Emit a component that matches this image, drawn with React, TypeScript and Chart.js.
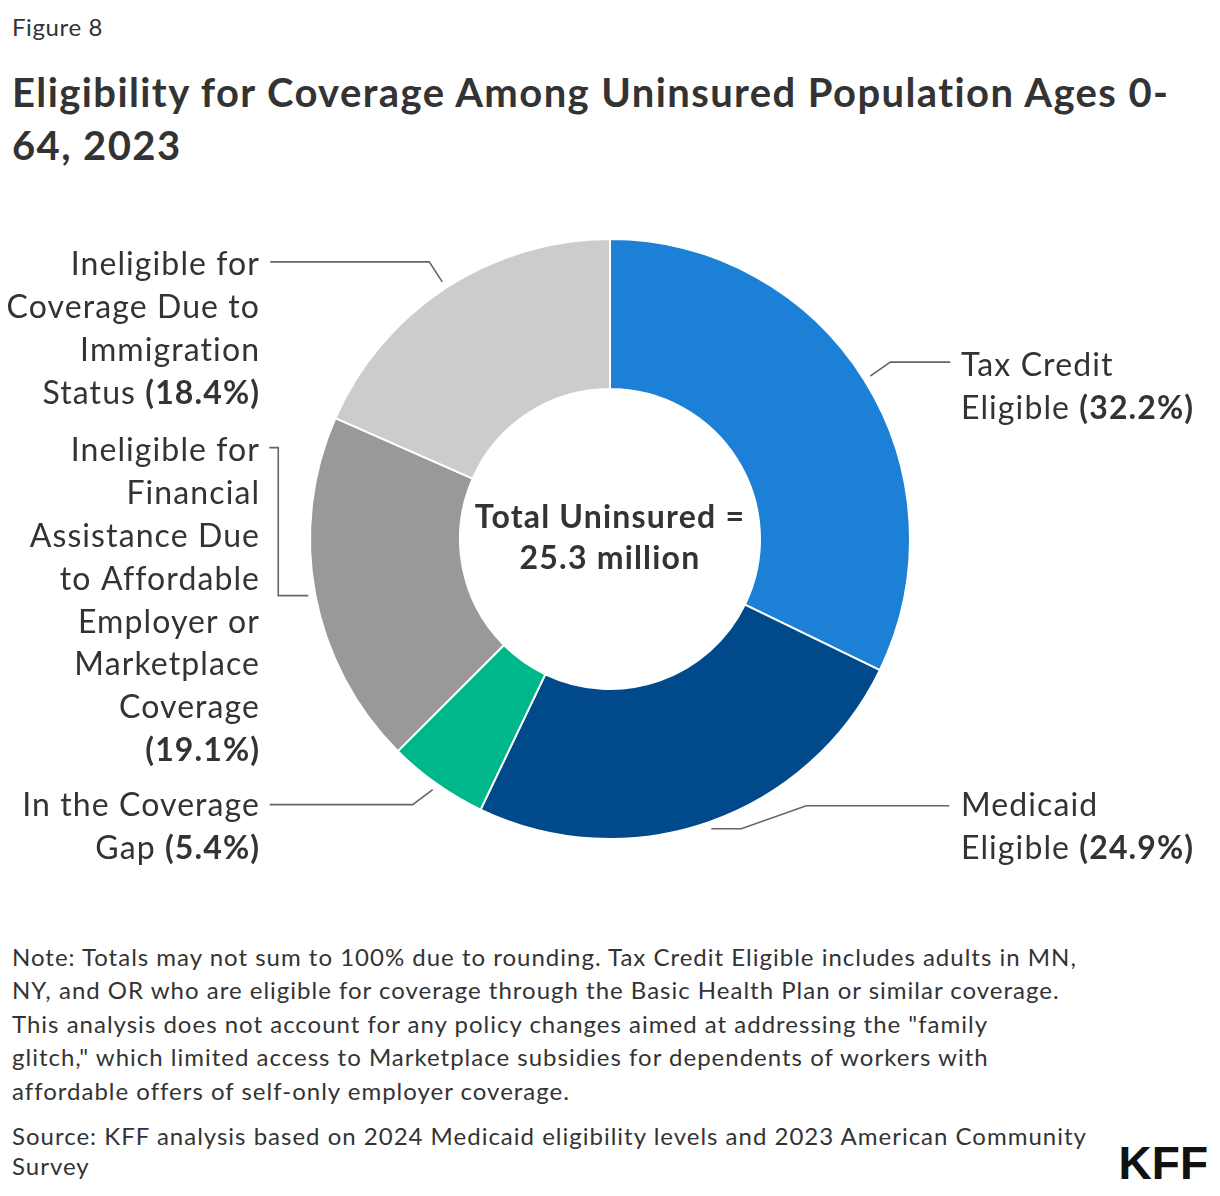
import React, { useEffect, useRef } from "react";
import { Chart, registerables } from "chart.js";

Chart.register(...registerables);

const categories = [
  "Tax Credit Eligible",
  "Medicaid Eligible",
  "In the Coverage Gap",
  "Ineligible for Financial Assistance",
  "Ineligible for Coverage Due to Immigration Status",
];
const shares = [32.2, 24.9, 5.4, 19.1, 18.4];
const labelLines = [
  ["Tax Credit", "Eligible"],
  ["Medicaid", "Eligible"],
  ["In the Coverage", "Gap"],
  ["Ineligible for", "Financial", "Assistance Due", "to Affordable", "Employer or", "Marketplace", "Coverage", ""],
  ["Ineligible for", "Coverage Due to", "Immigration", "Status"],
];
const centerLines = ["Total Uninsured =", "25.3 million"];

const colors = ["#1c80d6", "#00498a", "#00b68b", "#999999", "#cccccc"];
const FONT = "Lato, 'Noto Sans', sans-serif";
const TEXT = "#333333";

// layout (canvas coords, canvas top at page y=179, left at page x=8)
const CANVAS_TOP = 179;
const labelSide = ["right", "right", "left", "left", "left"];
const labelX = [953, 953, 251, 251, 251];
const labelY = [366, 806, 806, 451, 265].map((y) => y - CANVAS_TOP);
const LINE_H = 42.8;
const leaderPaths: number[][][] = [
  [[20, -14], [80, -14]],
  [[30, 0], [95, -23], [238, -23]],
  [[-20, 15], [-163, 15]],
  [[-30, 0], [-30, -148], [-39, -148]],
  [[-13, -20], [-172, -20]],
];

const labelPlugin = {
  id: "kffLabels",
  afterDraw(chart: any) {
    const ctx = chart.ctx;
    const meta = chart.getDatasetMeta(0);
    ctx.save();
    meta.data.forEach((arc: any, i: number) => {
      const { x, y, startAngle, endAngle, outerRadius } = arc.getProps(
        ["x", "y", "startAngle", "endAngle", "outerRadius"],
        true
      );
      const mid = (startAngle + endAngle) / 2;
      const r = outerRadius + 7;
      const ax = x + Math.cos(mid) * r;
      const ay = y + Math.sin(mid) * r;
      ctx.strokeStyle = "#666666";
      ctx.lineWidth = 1.6;
      ctx.beginPath();
      ctx.moveTo(ax, ay);
      leaderPaths[i].forEach(([dx, dy]) => ctx.lineTo(ax + dx, ay + dy));
      ctx.stroke();

      const lines = labelLines[i];
      const pct = `(${shares[i].toFixed(1)}%)`;
      const regular = `32px ${FONT}`;
      const bold = `bold 32px ${FONT}`;
      ctx.fillStyle = TEXT;
      ctx.textBaseline = "middle";
      ctx.textAlign = "left";
      (ctx as any).letterSpacing = "1.1px";
      lines.forEach((line, li) => {
        const isLast = li === lines.length - 1;
        const segs: [string, string][] = [];
        if (line) segs.push([line + (isLast ? " " : ""), regular]);
        if (isLast) segs.push([pct, bold]);
        let total = 0;
        segs.forEach(([t, f]) => {
          ctx.font = f;
          total += ctx.measureText(t).width;
        });
        let cx = labelSide[i] === "right" ? labelX[i] : labelX[i] - total + 1.1;
        const cy = labelY[i] + li * LINE_H;
        segs.forEach(([t, f]) => {
          ctx.font = f;
          ctx.fillText(t, cx, cy);
          cx += ctx.measureText(t).width;
        });
      });
    });
    // center text
    const a0 = meta.data[0];
    ctx.font = `bold 32px ${FONT}`;
    (ctx as any).letterSpacing = "1.2px";
    ctx.textAlign = "center";
    ctx.fillStyle = TEXT;
    ctx.fillText(centerLines[0], a0.x, a0.y - 21);
    ctx.fillText(centerLines[1], a0.x, a0.y + 20);
    ctx.restore();
  },
};

function DonutChart() {
  const ref = useRef<HTMLCanvasElement>(null);
  useEffect(() => {
    if (!ref.current) return;
    const chart = new Chart(ref.current, {
      type: "doughnut",
      data: {
        labels: categories,
        datasets: [
          {
            data: shares,
            backgroundColor: colors,
            borderColor: "#ffffff",
            borderWidth: 2,
            hoverOffset: 0,
          },
        ],
      },
      options: {
        responsive: false,
        animation: false,
        cutout: "50%",
        radius: 300,
        events: [],
        plugins: { legend: { display: false }, tooltip: { enabled: false } },
      } as any,
      plugins: [labelPlugin],
    });
    return () => chart.destroy();
  }, []);
  return (
    <canvas
      ref={ref}
      width={1204}
      height={720}
      style={{ position: "absolute", left: 0, top: CANVAS_TOP - 8, width: 1204, height: 720 }}
    />
  );
}

const noteLines = [
  "Note: Totals may not sum to 100% due to rounding. Tax Credit Eligible includes adults in MN,",
  "NY, and OR who are eligible for coverage through the Basic Health Plan or similar coverage.",
  "This analysis does not account for any policy changes aimed at addressing the \"family",
  "glitch,\" which limited access to Marketplace subsidies for dependents of workers with",
  "affordable offers of self-only employer coverage.",
];
const noteY = [957, 990, 1024, 1057, 1091];
const sourceLines = [
  "Source: KFF analysis based on 2024 Medicaid eligibility levels and 2023 American Community",
  "Survey",
];
const sourceY = [1136, 1166];

function Line(props: { text: string; y: number; size: number; bold?: boolean; lh?: number; left?: number; ls?: number }) {
  const lh = props.lh ?? props.size * 1.3;
  return (
    <div
      style={{
        position: "absolute",
        left: (props.left ?? 12) - 8,
        top: props.y - 8 - lh / 2,
        lineHeight: `${lh}px`,
        fontSize: props.size,
        fontWeight: props.bold ? 700 : 400,
        letterSpacing: props.ls ?? 0,
        whiteSpace: "nowrap",
        color: TEXT,
      }}
    >
      {props.text}
    </div>
  );
}

export default function App() {
  return (
    <div style={{ position: "relative", width: 1204, height: 1180, fontFamily: FONT, background: "#fff" }}>
      <Line text="Figure 8" y={27} size={24} ls={0.6} />
      <Line text="Eligibility for Coverage Among Uninsured Population Ages 0-" y={92} size={40} bold ls={1.4} />
      <Line text="64, 2023" y={145} size={40} bold ls={1.4} />
      <DonutChart />
      {noteLines.map((t, i) => (
        <Line key={"n" + i} text={t} y={noteY[i]} size={24} ls={1} />
      ))}
      {sourceLines.map((t, i) => (
        <Line key={"s" + i} text={t} y={sourceY[i]} size={24} ls={1} />
      ))}
      <div
        style={{
          position: "absolute",
          right: 1204 - 1208 + 8,
          top: 1163 - 8 - 25,
          lineHeight: "50px",
          fontSize: 46,
          fontWeight: 700,
          fontFamily: "'Liberation Sans', Arial, sans-serif",
          letterSpacing: 0,
          color: "#111",
        }}
      >
        KFF
      </div>
    </div>
  );
}
